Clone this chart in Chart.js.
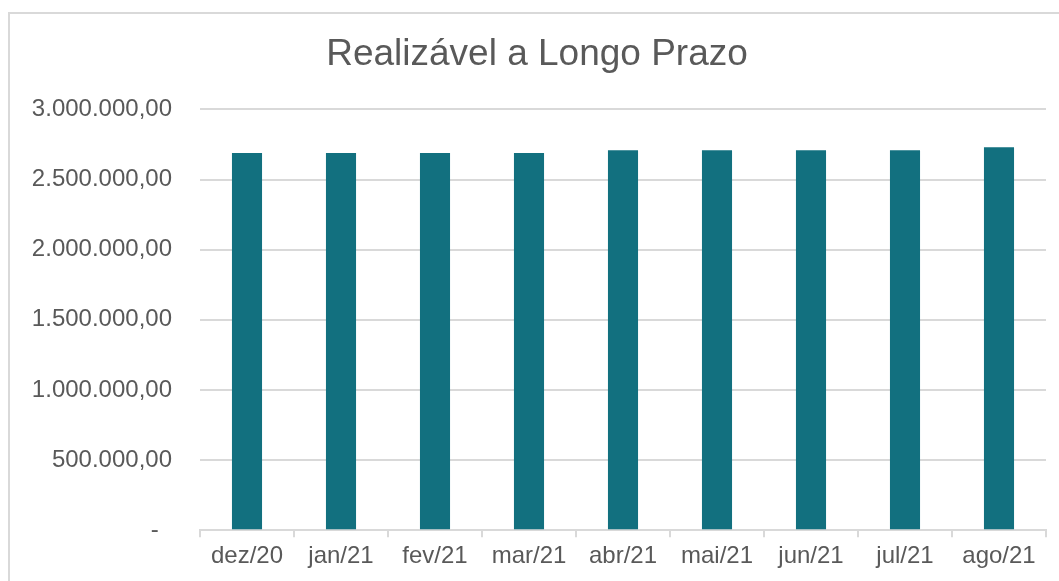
<!DOCTYPE html>
<html lang="pt">
<head>
<meta charset="UTF-8">
<title>Realizável a Longo Prazo</title>
<script src="https://cdn.jsdelivr.net/npm/chart.js"></script>
<style>
    html, body { margin: 0; padding: 0; background: #fff; overflow: hidden; }
    .frame {
        position: absolute; left: 8px; top: 12px;
        width: 1070px; height: 580px;
        border: 2px solid #d9d9d9; box-sizing: border-box;
    }
    .frame canvas { display: block; }
</style>
</head>
<body>

<div class="frame">
    <canvas id="grafico"></canvas>
</div>

<script>
    // dados do gráfico
    var meses = ['dez/20', 'jan/21', 'fev/21', 'mar/21', 'abr/21', 'mai/21', 'jun/21', 'jul/21', 'ago/21'];
    var valores = [2690000, 2690000, 2690000, 2690000, 2708000, 2708000, 2708000, 2708000, 2731000];
    var titulo = 'Realizável a Longo Prazo';

    // formato contábil pt-BR: 3.000.000,00 e "-" para zero
    function formata(v) {
        if (v === 0) return '-  ';
        var partes = v.toFixed(2).split('.');
        partes[0] = partes[0].replace(/\B(?=(\d{3})+(?!\d))/g, '.');
        return partes[0] + ',' + partes[1];
    }

    var cinza = '#595959';
    var linha = '#d9d9d9';
    var fonte = 'Liberation Sans, Arial';

    var ctx = document.getElementById('grafico').getContext('2d');
    new Chart(ctx, {
        type: 'bar',
        data: {
            labels: meses,
            datasets: [{
                label: titulo,
                data: valores,
                backgroundColor: '#12707f',
                categoryPercentage: 1.0,
                barPercentage: 0.32
            }]
        },
        options: {
            responsive: true,
            maintainAspectRatio: false,
            animation: false,
            layout: { padding: { left: 18, right: 30, bottom: 14 } },
            plugins: {
                legend: { display: false },
                tooltip: { enabled: false },
                title: {
                    display: true,
                    text: titulo,
                    color: cinza,
                    font: { family: fonte, size: 37, weight: 'normal' },
                    padding: { top: 19, bottom: 32 }
                }
            },
            scales: {
                x: {
                    grid: {
                        drawOnChartArea: false,
                        drawTicks: true,
                        tickLength: 7,
                        color: linha,
                        lineWidth: 2
                    },
                    border: { color: linha, width: 2 },
                    ticks: {
                        color: cinza,
                        padding: 5,
                        font: { family: fonte, size: 24 }
                    }
                },
                y: {
                    min: 0,
                    max: 3000000,
                    afterFit: function (scale) { scale.width = 172; },
                    grid: { color: linha, lineWidth: 2, drawTicks: false },
                    border: { display: false },
                    ticks: {
                        stepSize: 500000,
                        color: cinza,
                        padding: 28,
                        font: { family: fonte, size: 24 },
                        callback: function (v) { return formata(v); }
                    }
                }
            }
        }
    });
</script>
</body>
</html>
